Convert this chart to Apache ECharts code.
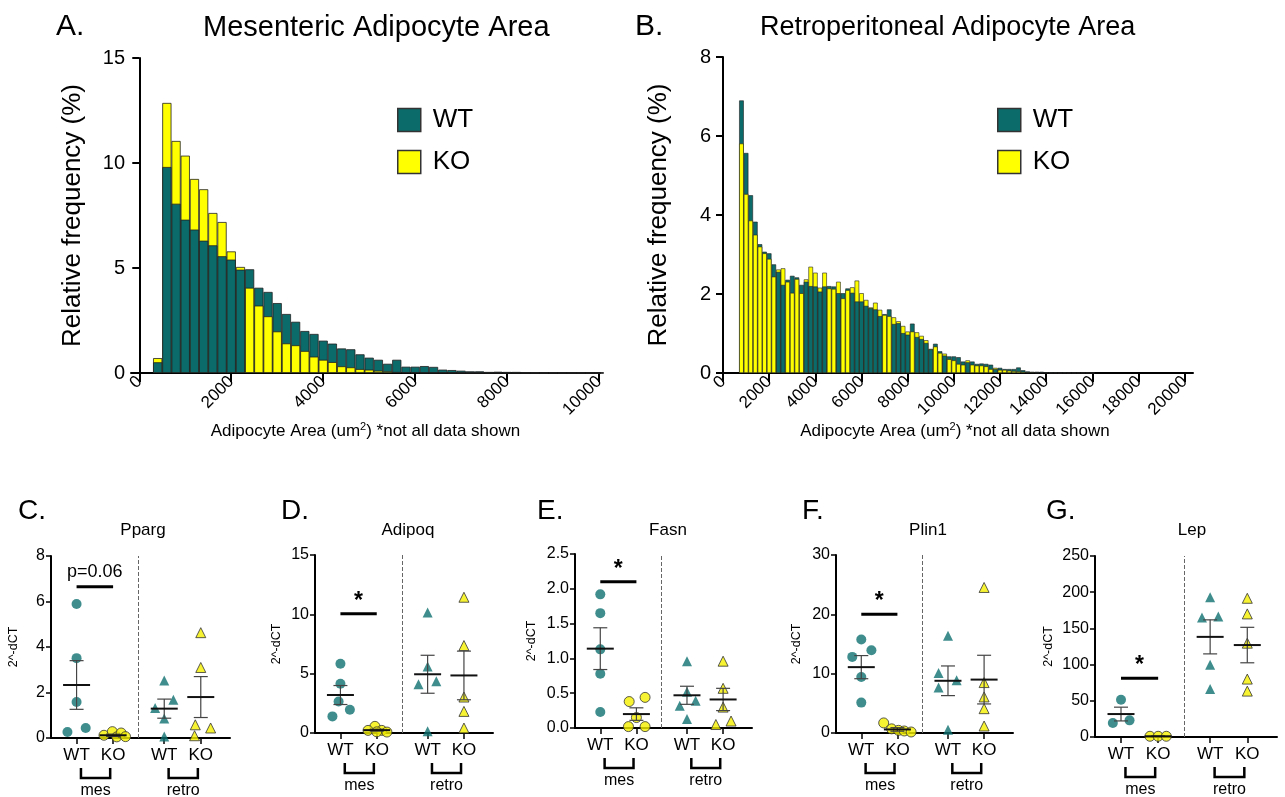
<!DOCTYPE html>
<html><head><meta charset="utf-8">
<script src="https://cdn.jsdelivr.net/npm/echarts@6/dist/echarts.min.js"></script>
<style>html,body{margin:0;padding:0;background:#fff}#c{width:1285px;height:797px}</style>
</head><body><div id="c"></div>
<script>
// ---------- Histogram data ----------
const binStartA = 400, binStepA = 200;
const wtA = [0.51,9.81,8.06,7.30,6.83,6.30,6.08,5.56,5.40,4.92,4.94,4.06,3.86,3.33,2.81,2.44,2.00,1.86,1.54,1.40,1.17,1.13,0.89,0.73,0.63,0.44,0.63,0.30,0.30,0.33,0.29,0.16,0.14,0.11,0.08,0.08,0.05,0.06,0.05,0.05,0.03,0.03,0.02,0.03,0.02,0.02,0.02,0.01,0.01];
const koA = [0.71,12.86,11.05,10.35,9.24,8.75,7.62,7.19,5.79,5.05,4.06,3.21,2.70,1.98,1.41,1.32,1.05,0.78,0.63,0.52,0.32,0.27,0.19,0.16,0.11,0.08,0.05,0.03,0.02,0.01,0.01,0.01,0,0,0,0,0,0,0,0,0,0,0,0,0,0,0,0,0];
const binStartB = 800, binStepB = 200;
const wtB = [6.90,5.57,4.50,3.83,3.26,3.07,3.03,2.75,2.56,2.23,2.36,2.46,2.42,2.23,2.31,2.20,2.19,2.06,2.19,2.20,2.19,2.02,2.02,2.14,2.03,1.81,1.81,1.70,1.64,1.61,1.44,1.49,1.61,1.24,1.26,1.01,0.97,1.25,0.91,0.86,0.76,0.60,0.74,0.55,0.44,0.42,0.42,0.40,0.29,0.27,0.29,0.23,0.24,0.23,0.21,0.10,0.13,0.10,0.10,0.10,0.14,0.07,0.04,0.03,0.03,0.03,0.02,0.02,0.02,0.01,0.02,0.01,0.01,0.01,0.01,0.01,0.01];
const koB = [5.81,4.53,3.86,3.50,3.20,3.03,2.89,2.44,2.62,2.65,2.31,2.03,2.38,2.02,2.37,2.69,2.54,2.16,2.54,2.14,2.13,2.31,1.89,2.10,2.17,2.34,2.02,1.85,1.66,1.78,1.60,1.47,1.44,1.41,1.31,1.19,1.05,1.05,1.03,0.94,0.83,0.61,0.67,0.51,0.49,0.35,0.32,0.23,0.21,0.32,0.21,0.19,0.19,0.17,0.10,0.13,0.08,0.08,0.06,0.05,0.04,0.03,0.02,0.02,0.01,0.01,0.01,0,0,0,0,0,0,0,0,0,0];
const ticksA = [0,2000,4000,6000,8000,10000];
const ticksB = [0,2000,4000,6000,8000,10000,12000,14000,16000,18000,20000];

// ---------- qPCR panels ----------
const genes = ['Pparg','Adipoq','Fasn','Plin1','Lep'];
const letters = ['C.','D.','E.','F.','G.'];
const groupLabels = ['WT','KO','WT','KO'];
const groupPos = [1, 2, 3.4, 4.4];
const dividerPos = 2.7;
const yMaxes = [8, 15, 2.5, 30, 250];
const yIntervals = [2, 5, 0.5, 10, 50];
const sigY = [6.65, 10.04, 2.10, 20.0, 81];
const sigLabels = ['p=0.06','*','*','*','*'];
const bracketSpans = [[1.12,1.92],[3.52,4.32]];
const bracketLabels = ['mes','retro'];

const ppargVals = [[5.89,3.51,1.58,0.26,0.44],[0.12,0.28,0.05,0.22,0.06],[2.53,1.68,1.32,0.86,0.07],[4.63,3.10,0.58,0.44,0.10]];
const ppargJit  = [[0,0,0,-0.25,0.25],[-0.25,-0.02,0.1,0.22,0.34],[0,0.25,-0.25,0,0],[0,0,-0.15,0.27,-0.17]];
const ppargMean = [2.33,0.12,1.29,1.80];
const ppargSem  = [1.07,0.05,0.42,0.90];

const adipoqVals = [[5.83,4.15,2.66,1.96,1.40],[0.56,0.22,0.22,0.08,0.10],[10.15,5.60,4.10,4.37,0.14],[11.44,7.37,3.03,1.82,0.42]];
const adipoqJit  = [[0,0,-0.05,0.26,-0.22],[-0.05,-0.24,0.14,0.28,0],[0,0,-0.25,0.24,0],[0,0,0,0,0]];
const adipoqMean = [3.2,0.24,4.95,4.85];
const adipoqSem  = [0.8,0.08,1.6,2.05];

const fasnVals = [[1.92,1.65,1.13,0.78,0.23],[0.38,0.44,0.15,0.02,0.02],[0.96,0.52,0.32,0.39,0.13],[0.96,0.57,0.30,0.05,0.10]];
const fasnJit  = [[0,0,0,0,0],[-0.2,0.24,0,-0.22,0.24],[0,0,-0.2,0.24,0],[0,0,0,-0.2,0.22]];
const fasnMean = [1.14,0.20,0.47,0.41];
const fasnSem  = [0.30,0.09,0.13,0.16];

const plin1Vals = [[15.76,13.96,12.83,9.45,5.12],[1.7,0.7,0.45,0.34,0.17],[16.38,10.1,8.9,7.65,0.56],[24.53,8.5,6.08,4.1,1.18]];
const plin1Jit  = [[0,0.28,-0.25,0,0],[-0.38,-0.16,0.03,0.19,0.38],[0,-0.26,0.24,-0.26,0],[0,0,0,0,0]];
const plin1Mean = [11.1,0.6,8.8,9.0];
const plin1Sem  = [1.95,0.3,2.5,4.1];

const lepVals = [[51.5,19.3,23],[1,1,1],[193,165,166.4,99.7,66.2],[191.6,170,129.6,80,63.4]];
const lepJit  = [[0,-0.22,0.23],[-0.22,0,0.22],[0,-0.22,0.22,0,0],[0,0,0,0,0]];
const lepMean = [31.7,1.0,138.3,127];
const lepSem  = [9.5,0.3,23.5,24.5];

const panelVals = [ppargVals, adipoqVals, fasnVals, plin1Vals, lepVals];
const panelJit  = [ppargJit, adipoqJit, fasnJit, plin1Jit, lepJit];
const panelMean = [ppargMean, adipoqMean, fasnMean, plin1Mean, lepMean];
const panelSem  = [ppargSem, adipoqSem, fasnSem, plin1Sem, lepSem];

// ---------- layout / style ----------
const FAM = 'Liberation Sans, Arial, Helvetica, sans-serif';
const TEAL = '#0b6a6a', YEL = '#ffff00', TEALP = '#0f7070', YELP = '#f5f000';
const bottomGrids = [
  {left:51, top:556, width:179, height:182},
  {left:315, top:555, width:178, height:178},
  {left:575, top:554, width:177, height:174},
  {left:836, top:555, width:177, height:178},
  {left:1095, top:556, width:182, height:181}
];
const nameGaps = [31, 32, 37, 33, 40];
const geneTitleX = [138, 403, 663, 923, 1187];
const letterX = [13, 276, 532, 797, 1041];

const grids = [], xAxes = [], yAxes = [], series = [], titles = [];

function xName() {
  return {
    name: '{a|Adipocyte Area (um}{s|2}{a|) *not all data shown}',
    nameLocation: 'middle', nameGap: 36,
    nameTextStyle: {color:'#000', fontSize:17, fontFamily:FAM,
      rich: {a:{fontSize:17, color:'#000', fontFamily:FAM, lineHeight:20}, s:{fontSize:11, color:'#000', fontFamily:FAM, verticalAlign:'top', lineHeight:20}}}
  };
}

function histAxes(gi, min, max, ticks, ymax, yint) {
  xAxes.push(Object.assign({
    gridIndex: gi, type:'value', min, max,
    axisLine:{onZero:false, lineStyle:{color:'#000', width:2}},
    axisTick:{customValues:ticks, length:9, lineStyle:{color:'#000', width:2}},
    axisLabel:{customValues:ticks, formatter:(v) => String(v), rotate:45, fontSize:17, color:'#000', margin:6, fontFamily:FAM},
    splitLine:{show:false}
  }, xName()));
  yAxes.push({
    gridIndex: gi, type:'value', min:0, max:ymax, interval:yint,
    axisLine:{show:true, lineStyle:{color:'#000', width:2}},
    axisTick:{show:true, length:7, lineStyle:{color:'#000', width:2}},
    axisLabel:{fontSize:20, color:'#000', margin:6, fontFamily:FAM},
    splitLine:{show:false},
    name:'Relative frequency (%)', nameLocation:'middle', nameGap:45,
    nameTextStyle:{fontSize:26, color:'#000', fontFamily:FAM}
  });
}

function histSeries(gi, start, step, wt, ko, bw) {
  const backWT = [], backKO = [], frontWT = [], frontKO = [];
  wt.forEach((w, i) => {
    const x = start + i * step, k = ko[i];
    if (w >= k) { backWT.push([x, w]); frontKO.push([x, k]); }
    else { backKO.push([x, k]); frontWT.push([x, w]); }
  });
  const mk = (name, data) => ({
    name, type:'bar', xAxisIndex:gi, yAxisIndex:gi, data,
    barWidth:'100%', barGap:'-100%',
    itemStyle:{color: name === 'WT' ? TEAL : YEL, borderColor:'#222', borderWidth:bw},
    emphasis:{disabled:true}, animation:false
  });
  series.push(mk('WT', backWT), mk('KO', backKO), mk('WT', frontWT), mk('KO', frontKO));
}

grids.push({left:131, top:58, width:469, height:315});
histAxes(0, -180, 10020, ticksA, 15, 5);
histSeries(0, binStartA, binStepA, wtA, koA, 0.8);

grids.push({left:717, top:57, width:476, height:316});
histAxes(1, -260, 20360, ticksB, 8, 2);
histSeries(1, binStartB, binStepB, wtB, koB, 0.6);

const ts = (fs) => ({fontSize:fs, fontWeight:'normal', color:'#000', fontFamily:FAM});
titles.push(
  {text:'A.', left:51, top:7, textStyle:ts(30)},
  {text:'Mesenteric Adipocyte Area', left:198, top:8, textStyle:ts(29)},
  {text:'B.', left:630, top:7, textStyle:ts(30)},
  {text:'Retroperitoneal Adipocyte Area', left:755, top:9, textStyle:ts(27)}
);

genes.forEach((gene, p) => {
  const gi = p + 2;
  grids.push(bottomGrids[p]);
  xAxes.push({
    gridIndex:gi, type:'value', min:0.3, max:5.2,
    axisLine:{onZero:false, lineStyle:{color:'#000', width:2}},
    axisTick:{customValues:groupPos, length:6, lineStyle:{color:'#000', width:1.5}},
    axisLabel:{customValues:groupPos, formatter:(v) => groupLabels[groupPos.indexOf(v)], fontSize:17, color:'#000', margin:9, fontFamily:FAM},
    splitLine:{show:false}
  });
  const yl = {fontSize:16, color:'#000', margin:6, fontFamily:FAM};
  if (p === 2) yl.formatter = (v) => v.toFixed(1);
  yAxes.push({
    gridIndex:gi, type:'value', min:0, max:yMaxes[p], interval:yIntervals[p],
    axisLine:{show:true, lineStyle:{color:'#000', width:2}},
    axisTick:{show:true, length:5, lineStyle:{color:'#000', width:1.5}},
    axisLabel:yl, splitLine:{show:false},
    name:'2^-dCT', nameLocation:'middle', nameGap:nameGaps[p],
    nameTextStyle:{fontSize:12.5, color:'#000', fontFamily:FAM}
  });
  titles.push(
    {text:letters[p], left:letterX[p], top:492, textStyle:ts(28)},
    {text:gene, left:geneTitleX[p], textAlign:'center', top:517, textStyle:ts(17)}
  );
  for (let k = 0; k < 4; k++) {
    const vals = panelVals[p][k], jit = panelJit[p][k];
    const s = {
      type:'scatter', xAxisIndex:gi, yAxisIndex:gi, clip:false, z:3,
      symbol: k < 2 ? 'circle' : 'triangle', symbolSize: k < 2 ? 10 : 10,
      data: vals.map((v, i) => [groupPos[k] + jit[i], v]),
      itemStyle: k % 2 === 0 ? {color:TEALP} : {color:YELP, borderColor:'#333', borderWidth:1},
      emphasis:{disabled:true}, animation:false
    };
    if (k === 0) {
      s.markLine = {silent:true, symbol:['none','none'], label:{show:false},
        lineStyle:{color:'#666', width:1, type:[4,2]}, data:[{xAxis:dividerPos}], animation:false};
    }
    series.push(s);
  }
  // mean ± SEM
  series.push({
    type:'custom', xAxisIndex:gi, yAxisIndex:gi, z:5, clip:false, animation:false,
    data: groupPos.map((x, k) => [x, panelMean[p][k], panelSem[p][k]]),
    renderItem: (params, api) => {
      const x = api.value(0), m = api.value(1), s = api.value(2);
      const pm = api.coord([x, m]), pt = api.coord([x, m + s]), pb = api.coord([x, Math.max(0, m - s)]);
      const ln = (x1, y1, x2, y2, w, c) => ({type:'line', shape:{x1, y1, x2, y2}, style:{stroke:c, lineWidth:w}});
      return {type:'group', children:[
        ln(pt[0], pt[1], pb[0], pb[1], 1.2, '#444'),
        ln(pt[0] - 7, pt[1], pt[0] + 7, pt[1], 1.2, '#444'),
        ln(pb[0] - 7, pb[1], pb[0] + 7, pb[1], 1.2, '#444'),
        ln(pm[0] - 13.5, pm[1], pm[0] + 13.5, pm[1], 2, '#111')
      ]};
    }
  });
  // significance bar
  series.push({
    type:'custom', xAxisIndex:gi, yAxisIndex:gi, z:6, clip:false, animation:false,
    data: [[groupPos[0], sigY[p], groupPos[1]]],
    renderItem: (params, api) => {
      const a = api.coord([api.value(0), api.value(1)]), b = api.coord([api.value(2), api.value(1)]);
      const lab = sigLabels[p], star = lab === '*';
      return {type:'group', children:[
        {type:'line', shape:{x1:a[0], y1:a[1], x2:b[0], y2:b[1]}, style:{stroke:'#000', lineWidth:3}},
        {type:'text', x:(a[0] + b[0]) / 2, y: a[1] - (star ? 1 : 6),
          style:{text:lab, fill:'#000', align:'center', verticalAlign:'bottom',
            font: star ? 'bold 23px ' + FAM : '18px ' + FAM}}
      ]};
    }
  });
  // brackets under axis
  series.push({
    type:'custom', xAxisIndex:gi, yAxisIndex:gi, z:6, clip:false, animation:false,
    data: bracketSpans.map(s => [s[0], 0, s[1]]),
    renderItem: (params, api) => {
      const a = api.coord([api.value(0), 0]), b = api.coord([api.value(2), 0]);
      const base = a[1];
      return {type:'group', children:[
        {type:'polyline', shape:{points:[[a[0], base + 30], [a[0], base + 40], [b[0], base + 40], [b[0], base + 30]]},
          style:{stroke:'#000', lineWidth:2.5, fill:null}},
        {type:'text', x:(a[0] + b[0]) / 2, y: base + 45,
          style:{text:bracketLabels[params.dataIndex], fill:'#000', align:'center', verticalAlign:'top', font:'16px ' + FAM}}
      ]};
    }
  });
});

const legendBase = {
  orient:'vertical', itemWidth:23, itemHeight:23, itemGap:16, data:['WT','KO'], icon:'rect',
  textStyle:{fontSize:26, color:'#000', fontFamily:FAM, padding:[0,0,0,7]},
  itemStyle:{borderColor:'#333', borderWidth:1.5}, selectedMode:false
};

const chart = echarts.init(document.getElementById('c'));
chart.setOption({
  animation:false,
  backgroundColor:'#fff',
  textStyle:{fontFamily:FAM},
  title: titles,
  legend: [Object.assign({left:392, top:102}, legendBase), Object.assign({left:992, top:102}, legendBase)],
  grid: grids, xAxis: xAxes, yAxis: yAxes, series
});
</script>
</body></html>
